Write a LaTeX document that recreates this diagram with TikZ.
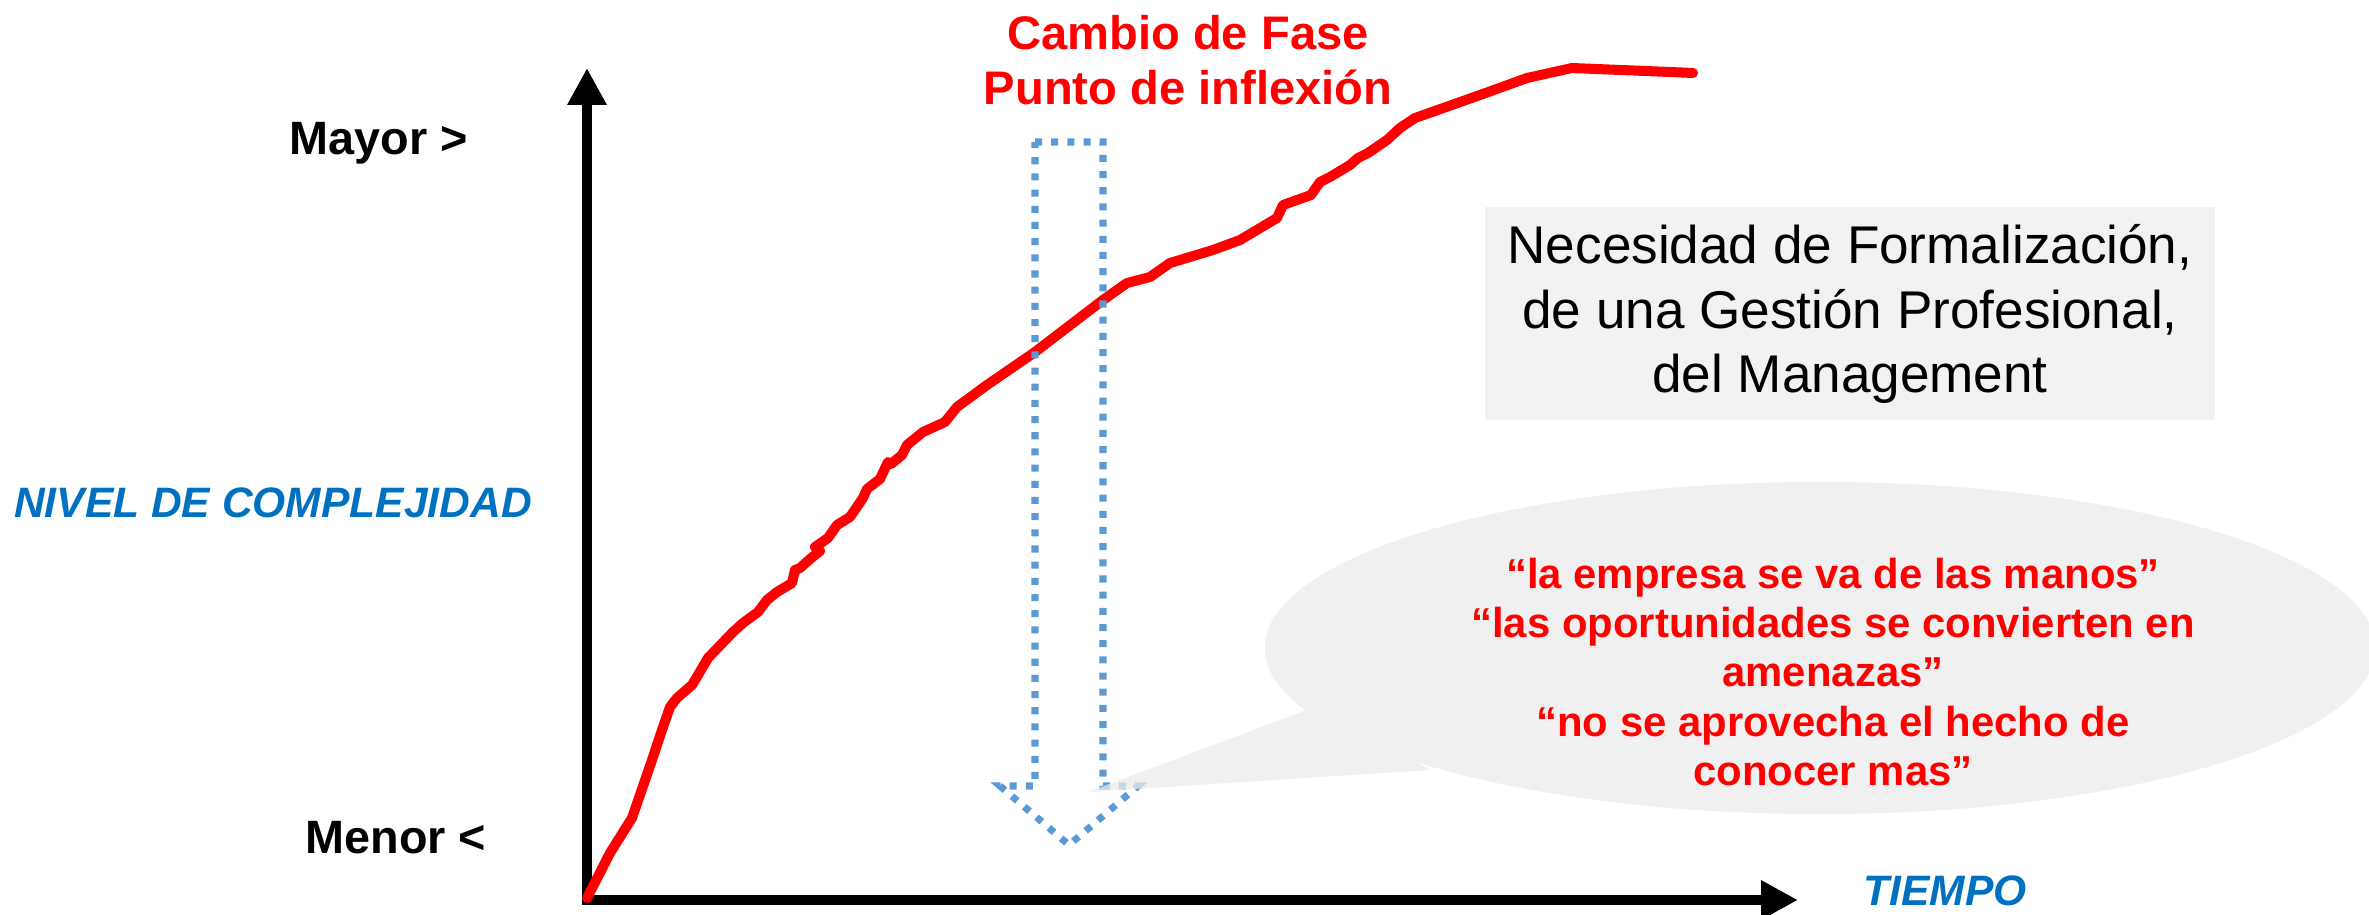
\documentclass[tikz,border=0pt]{standalone}
\usepackage{fontspec}
\setmainfont{Liberation Sans}
\usetikzlibrary{arrows.meta}
\definecolor{cred}{HTML}{FF0000}
\definecolor{cblue}{HTML}{0070C0}
\definecolor{cdot}{HTML}{5B9BD5}
\definecolor{cbox}{HTML}{F2F2F2}
\definecolor{cbub}{HTML}{EBEBEB}
\tikzset{
  axisline/.style={line width=2.85pt,-{Triangle[length=10.5pt,width=10.5pt]}},
  curveline/.style={cred,line width=2.85pt,line join=round,line cap=round},
  dotarrow/.style={cdot,line width=2pt,dash pattern=on 2pt off 2.6pt,line join=miter},
  axislabel/.style={inner sep=0pt,font=\fontsize{13.3}{16}\selectfont\bfseries},
  bluelabel/.style={inner sep=0pt,text=cblue,font=\fontsize{12.1}{15}\selectfont\bfseries\itshape},
  redtitle/.style={inner sep=0pt,text=cred,align=center,font=\fontsize{13.4}{15.6}\selectfont\bfseries},
  boxtext/.style={inner sep=0pt,align=center,font=\fontsize{15.1}{18.4}\selectfont},
  bubtext/.style={inner sep=0pt,text=cred,align=center,font=\fontsize{11.9}{14}\selectfont\bfseries}
}
\begin{document}
\begin{tikzpicture}[x=0.01cm,y=-0.01cm]
\path[use as bounding box] (0,0) rectangle (2369,915);

% gray box
\fill[cbox] (1485,207) rectangle (2215,420);
\node[boxtext] (box) at (1850,314) {Necesidad de Formalización,\\de una Gestión Profesional,\\del Management};

% axes
\coordinate (O) at (587,905);
\coordinate (Ytip) at (587,68);
\coordinate (Xo) at (582,900);
\coordinate (Xtip) at (1798,900);
\draw[axisline] (O) -- (Ytip);
\draw[axisline] (Xo) -- (Xtip);

% red curve
\draw[curveline] (587,898) -- (610,853) -- (632,818) -- (652,760) -- (662,730) -- (670,707) -- (677,698) -- (692,685) -- (698,675) -- (708,658) -- (733,632) -- (743,623) -- (758,612) -- (767,600) -- (777,592) -- (792,583) -- (795,570) -- (800,568) -- (810,559) -- (820,551) -- (815,547) -- (828,538) -- (837,525) -- (850,517) -- (863,498) -- (867,489) -- (880,479) -- (888,462) -- (891,464) -- (902,455) -- (907,445) -- (923,432) -- (945,422) -- (957,407) -- (987,385) -- (1035,352) -- (1103,300) -- (1127,283) -- (1150,277) -- (1170,263) -- (1213,250) -- (1240,240) -- (1277,218) -- (1283,205) -- (1311,195) -- (1320,182) -- (1330,177) -- (1350,165) -- (1358,158) -- (1368,153) -- (1387,140) -- (1400,128) -- (1415,118) -- (1480,95) -- (1527,78) -- (1572,68) -- (1670,72) -- (1693,73);

% dotted down arrow
\draw[dotarrow] (1035,142) -- (1103,142) -- (1103,786) -- (1138,786) -- (1069,845) -- (1000,786) -- (1035,786) -- cycle;

% speech bubble
\begin{scope}[transparency group,opacity=0.75]
\fill[cbub] (1820,648) ellipse [x radius=5.55cm, y radius=1.66cm];
\fill[cbub] (1088,792) -- (1320,705) -- (1430,770) -- cycle;
\end{scope}
\node[bubtext] (bub) at (1833,672) {“la empresa se va de las manos”\\“las oportunidades se convierten en\\amenazas”\\“no se aprovecha el hecho de\\conocer mas”};

% labels
\node[axislabel] (mayor) at (379,143) {Mayor >};
\node[axislabel] (menor) at (396,838) {Menor <};
\node[bluelabel] (nivel) at (273,503) {NIVEL DE COMPLEJIDAD};
\node[bluelabel] (tiempo) at (1945,891) {TIEMPO};
\node[redtitle] (cambio) at (1188,60) {Cambio de Fase\\Punto de inflexión};
\end{tikzpicture}
\end{document}
